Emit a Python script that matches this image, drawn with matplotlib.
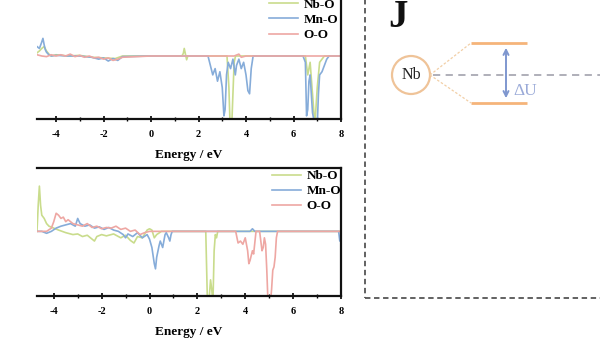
import matplotlib
matplotlib.use("Agg")
import matplotlib.pyplot as plt
from matplotlib.patches import Circle, FancyArrowPatch
from matplotlib.ticker import MultipleLocator

plt.rcParams["axes.unicode_minus"] = False

# ---------------- data ----------------
series_labels = ["Nb-O", "Mn-O", "O-O"]
series_colors = ["#c9dc8c", "#86acd9", "#eea7a3"]
xticks = [-4, -2, 0, 2, 4, 6, 8]
xlabel = "Energy / eV"

# top panel
top_nb_E = [-4.8, -4.7, -4.6, -4.5, -4.4, -4.3, -4.2, -4.0, -3.5, -3.0, -2.5, -2.0, -1.5, -1.2, 0.0,
            1.3, 1.36, 1.4, 1.45, 1.5, 1.55, 2.5, 3.2, 3.28, 3.33, 3.4, 3.45, 3.5, 3.56, 4.0,
            6.5, 6.6, 6.7, 6.8, 6.9, 7.0, 7.1, 7.3, 8.0]
top_nb_V = [0.05, 0.08, 0.12, 0.15, 0.08, 0.03, 0.0, 0.02, 0.0, 0.01, -0.02, -0.03, -0.04, 0.0, 0.0,
            0.0, 0.04, 0.12, 0.03, -0.06, 0.0, 0.0, 0.0, -0.5, -1.1, -1.1, -0.6, -0.1, 0.0, 0.0,
            0.0, -0.3, -0.1, -0.6, -1.1, -0.5, -0.1, 0.0, 0.0]

top_mn_E = [-4.8, -4.7, -4.62, -4.55, -4.5, -4.45, -4.4, -4.3, -4.2, -4.0, -3.5, -3.0, -2.5, -2.2, -2.0,
            -1.8, -1.6, -1.4, -1.2, 0.0, 2.4, 2.5, 2.6, 2.7, 2.8, 2.9, 3.0, 3.07, 3.12, 3.18, 3.25,
            3.35, 3.45, 3.55, 3.6, 3.7, 3.8, 3.9, 4.0, 4.08, 4.15, 4.22, 4.3, 6.4, 6.5, 6.55, 6.6,
            6.65, 6.7, 6.8, 6.9, 6.95, 7.0, 7.05, 7.1, 7.2, 7.3, 7.4, 7.5, 8.0]
top_mn_V = [0.15, 0.12, 0.2, 0.28, 0.18, 0.1, 0.06, 0.02, 0.0, 0.01, 0.0, 0.0, -0.02, -0.05, -0.03,
            -0.08, -0.04, -0.07, -0.01, 0.0, 0.0, -0.15, -0.3, -0.2, -0.4, -0.25, -0.5, -0.95, -0.85, -0.3, -0.1,
            -0.2, -0.05, -0.3, -0.15, -0.05, -0.2, -0.1, -0.3, -0.55, -0.6, -0.2, 0.0, 0.0, -0.1, -0.95, -0.85,
            -0.4, -0.3, -0.9, -1.1, -1.1, -1.1, -0.6, -0.3, -0.25, -0.15, -0.05, 0.0, 0.0]

top_oo_E = [-4.8, -4.6, -4.4, -4.2, -4.0, -3.8, -3.6, -3.4, -3.2, -3.0, -2.8, -2.6, -2.4, -2.2, -2.0,
            -1.8, -1.6, -1.4, -1.2, 0.0, 3.5, 3.7, 3.8, 4.0, 8.0]
top_oo_V = [0.02, 0.0, -0.01, 0.02, 0.0, 0.02, 0.0, 0.03, -0.01, 0.01, -0.02, 0.0, -0.03, -0.02, -0.05,
            -0.03, -0.07, -0.05, -0.02, 0.0, 0.0, 0.03, -0.02, 0.0, 0.0]

# bottom panel
bot_nb_E = [-4.7, -4.65, -4.6, -4.55, -4.5, -4.4, -4.3, -4.2, -4.0, -3.8, -3.5, -3.2, -3.0, -2.8, -2.6,
            -2.4, -2.3, -2.2, -2.0, -1.8, -1.5, -1.2, -1.0, -0.8, -0.65, -0.5, -0.3, -0.1, 0.0, 0.1,
            0.2, 0.3, 0.5, 2.35, 2.42, 2.48, 2.55, 2.6, 2.65, 2.7, 2.75, 2.8, 2.85, 2.9, 8.0]
bot_nb_V = [0.0, 0.4, 0.7, 0.4, 0.25, 0.2, 0.12, 0.08, 0.05, 0.02, -0.02, -0.05, -0.04, -0.08, -0.06,
            -0.12, -0.15, -0.08, -0.05, -0.07, -0.04, -0.1, -0.06, -0.14, -0.18, -0.08, -0.1, 0.02, 0.04, 0.02,
            -0.1, -0.05, 0.0, 0.0, -1.1, -1.1, -0.75, -0.9, -1.1, -0.3, -0.05, -0.1, 0.0, 0.0, 0.0]

bot_mn_E = [-4.7, -4.5, -4.3, -4.1, -3.9, -3.7, -3.5, -3.3, -3.1, -3.0, -2.9, -2.7, -2.5, -2.3, -2.1,
            -1.9, -1.7, -1.5, -1.3, -1.1, -1.0, -0.9, -0.7, -0.5, -0.3, -0.1, 0.0, 0.1, 0.2, 0.25,
            0.3, 0.4, 0.45, 0.55, 0.65, 0.7, 0.8, 0.85, 0.9, 0.95, 4.2, 4.3, 4.4, 7.9, 7.95, 8.0]
bot_mn_V = [0.0, 0.0, -0.03, 0.0, 0.05, 0.08, 0.1, 0.12, 0.08, 0.2, 0.12, 0.08, 0.1, 0.05, 0.07,
            0.03, 0.06, 0.02, 0.0, -0.05, -0.1, -0.04, -0.08, -0.02, -0.1, -0.05, -0.12, -0.25, -0.5, -0.58,
            -0.4, -0.22, -0.15, -0.25, -0.05, -0.02, -0.1, -0.15, -0.05, 0.0, 0.0, 0.04, 0.0, 0.0, -0.15, -0.05]

bot_oo_E = [-4.7, -4.3, -4.1, -4.0, -3.9, -3.8, -3.7, -3.6, -3.5, -3.4, -3.2, -3.0, -2.8, -2.6, -2.4,
            -2.2, -2.0, -1.8, -1.6, -1.4, -1.2, -1.0, -0.8, -0.6, -0.4, -0.2, 0.0, 3.6, 3.7, 3.8,
            3.9, 4.0, 4.1, 4.15, 4.2, 4.3, 4.35, 4.45, 4.6, 4.7, 4.75, 4.8, 4.85, 4.9, 4.95,
            5.05, 5.1, 5.15, 5.2, 5.25, 5.3, 5.35, 8.0]
bot_oo_V = [0.0, 0.0, 0.05, 0.15, 0.28, 0.25, 0.2, 0.22, 0.15, 0.18, 0.12, 0.1, 0.08, 0.12, 0.06,
            0.08, 0.04, 0.06, 0.05, 0.08, 0.03, 0.05, 0.0, 0.02, -0.05, -0.02, 0.0, 0.0, -0.18, -0.15,
            -0.2, -0.1, -0.3, -0.5, -0.45, -0.3, -0.35, 0.0, 0.0, -0.3, -0.25, -0.1, -0.2, -0.6, -1.1,
            -1.1, -0.9, -0.6, -0.55, -0.4, -0.1, 0.0, 0.0]

# ---------------- figure ----------------
W, H = 600, 338
fig = plt.figure(figsize=(6, 3.38), dpi=100)
serif = ["Liberation Serif", "DejaVu Serif"]

def fx(px):
    return px / W

def fy(py):
    return 1 - py / H

def setup(ax, xlim, ylim):
    ax.set_xlim(*xlim)
    ax.set_ylim(*ylim)
    ax.spines["left"].set_visible(False)
    for s in ["right", "bottom", "top"]:
        ax.spines[s].set_linewidth(1.6)
        ax.spines[s].set_color("#111111")
    ax.set_yticks([])
    ax.set_xticks(xticks)
    ax.xaxis.set_minor_locator(MultipleLocator(1))
    ax.tick_params(axis="x", which="major", direction="inout", length=4, width=1.2, pad=6)
    ax.tick_params(axis="x", which="minor", direction="inout", length=3, width=1.0)
    for lab in ax.get_xticklabels():
        lab.set_fontfamily(serif)
        lab.set_fontweight("bold")
        lab.set_fontsize(7.5)
    ax.set_xlabel(xlabel, fontfamily=serif, fontweight="bold", fontsize=9.5, labelpad=7)

legend_kw = dict(loc="upper right", frameon=False, borderpad=0, borderaxespad=0,
                 handlelength=2.2, handletextpad=0.4, labelspacing=0.22,
                 prop={"family": serif, "weight": "bold", "size": 9.5})

# top axes
ax1 = fig.add_axes([fx(37), fy(119), 304 / W, 126 / H])
data_top = [(top_nb_E, top_nb_V), (top_mn_E, top_mn_V), (top_oo_E, top_oo_V)]
for (e, v), lab, c in zip(data_top, series_labels, series_colors):
    ax1.plot(e, v, color=c, lw=1.2, label=lab)
setup(ax1, (-4.8, 8), (-1.0, 1.0))
ax1.legend(bbox_to_anchor=(0.99, 0.955), **legend_kw)

# bottom axes
ax2 = fig.add_axes([fx(37), fy(296), 304 / W, 128 / H])
data_bot = [(bot_nb_E, bot_nb_V), (bot_mn_E, bot_mn_V), (bot_oo_E, bot_oo_V)]
for (e, v), lab, c in zip(data_bot, series_labels, series_colors):
    ax2.plot(e, v, color=c, lw=1.2, label=lab)
setup(ax2, (-4.7, 8), (-1.0, 0.98))
ax2.legend(bbox_to_anchor=(1.0, 0.985), **legend_kw)

# overlay for the schematic panel (pixel coordinates)
ov = fig.add_axes([0, 0, 1, 1])
ov.set_xlim(0, W)
ov.set_ylim(H, 0)
ov.axis("off")
ov.patch.set_alpha(0)

box_color = "#555555"
ov.plot([365, 365], [-5, 298], color=box_color, lw=1.3, ls=(0, (3, 2)))
ov.plot([365, 605], [298, 298], color=box_color, lw=1.3, ls=(0, (3, 2)))

ov.text(388, 27, "J", fontfamily=serif, fontweight="bold", fontsize=28, color="#111111",
        ha="left", va="baseline")

ov.add_patch(Circle((411, 75), 19, fill=False, ec="#efc398", lw=1.6))
ov.text(411, 75, "Nb", fontfamily=serif, fontsize=11.5, color="#222222", ha="center", va="center")

ov.plot([430, 471], [75, 43], color="#f2cfa6", lw=0.9, ls=(0, (2, 1.5)))
ov.plot([430, 471], [75, 103], color="#f2cfa6", lw=0.9, ls=(0, (2, 1.5)))
ov.plot([433, 605], [75, 75], color="#a9a9b3", lw=1.3, ls=(0, (4, 3)))

ov.plot([471, 527], [43, 43], color="#f5b47a", lw=2.0, solid_capstyle="butt")
ov.plot([471, 527], [103, 103], color="#f5b47a", lw=2.0, solid_capstyle="butt")

ov.add_patch(FancyArrowPatch((506, 45), (506, 101), arrowstyle="<->", mutation_scale=9,
                             color="#7f97cf", lw=1.4))
ov.text(513, 91, "\u0394U", fontfamily=serif, fontsize=12.5, color="#9aaad8",
        ha="left", va="center")

fig.savefig("out.png", dpi=100)
